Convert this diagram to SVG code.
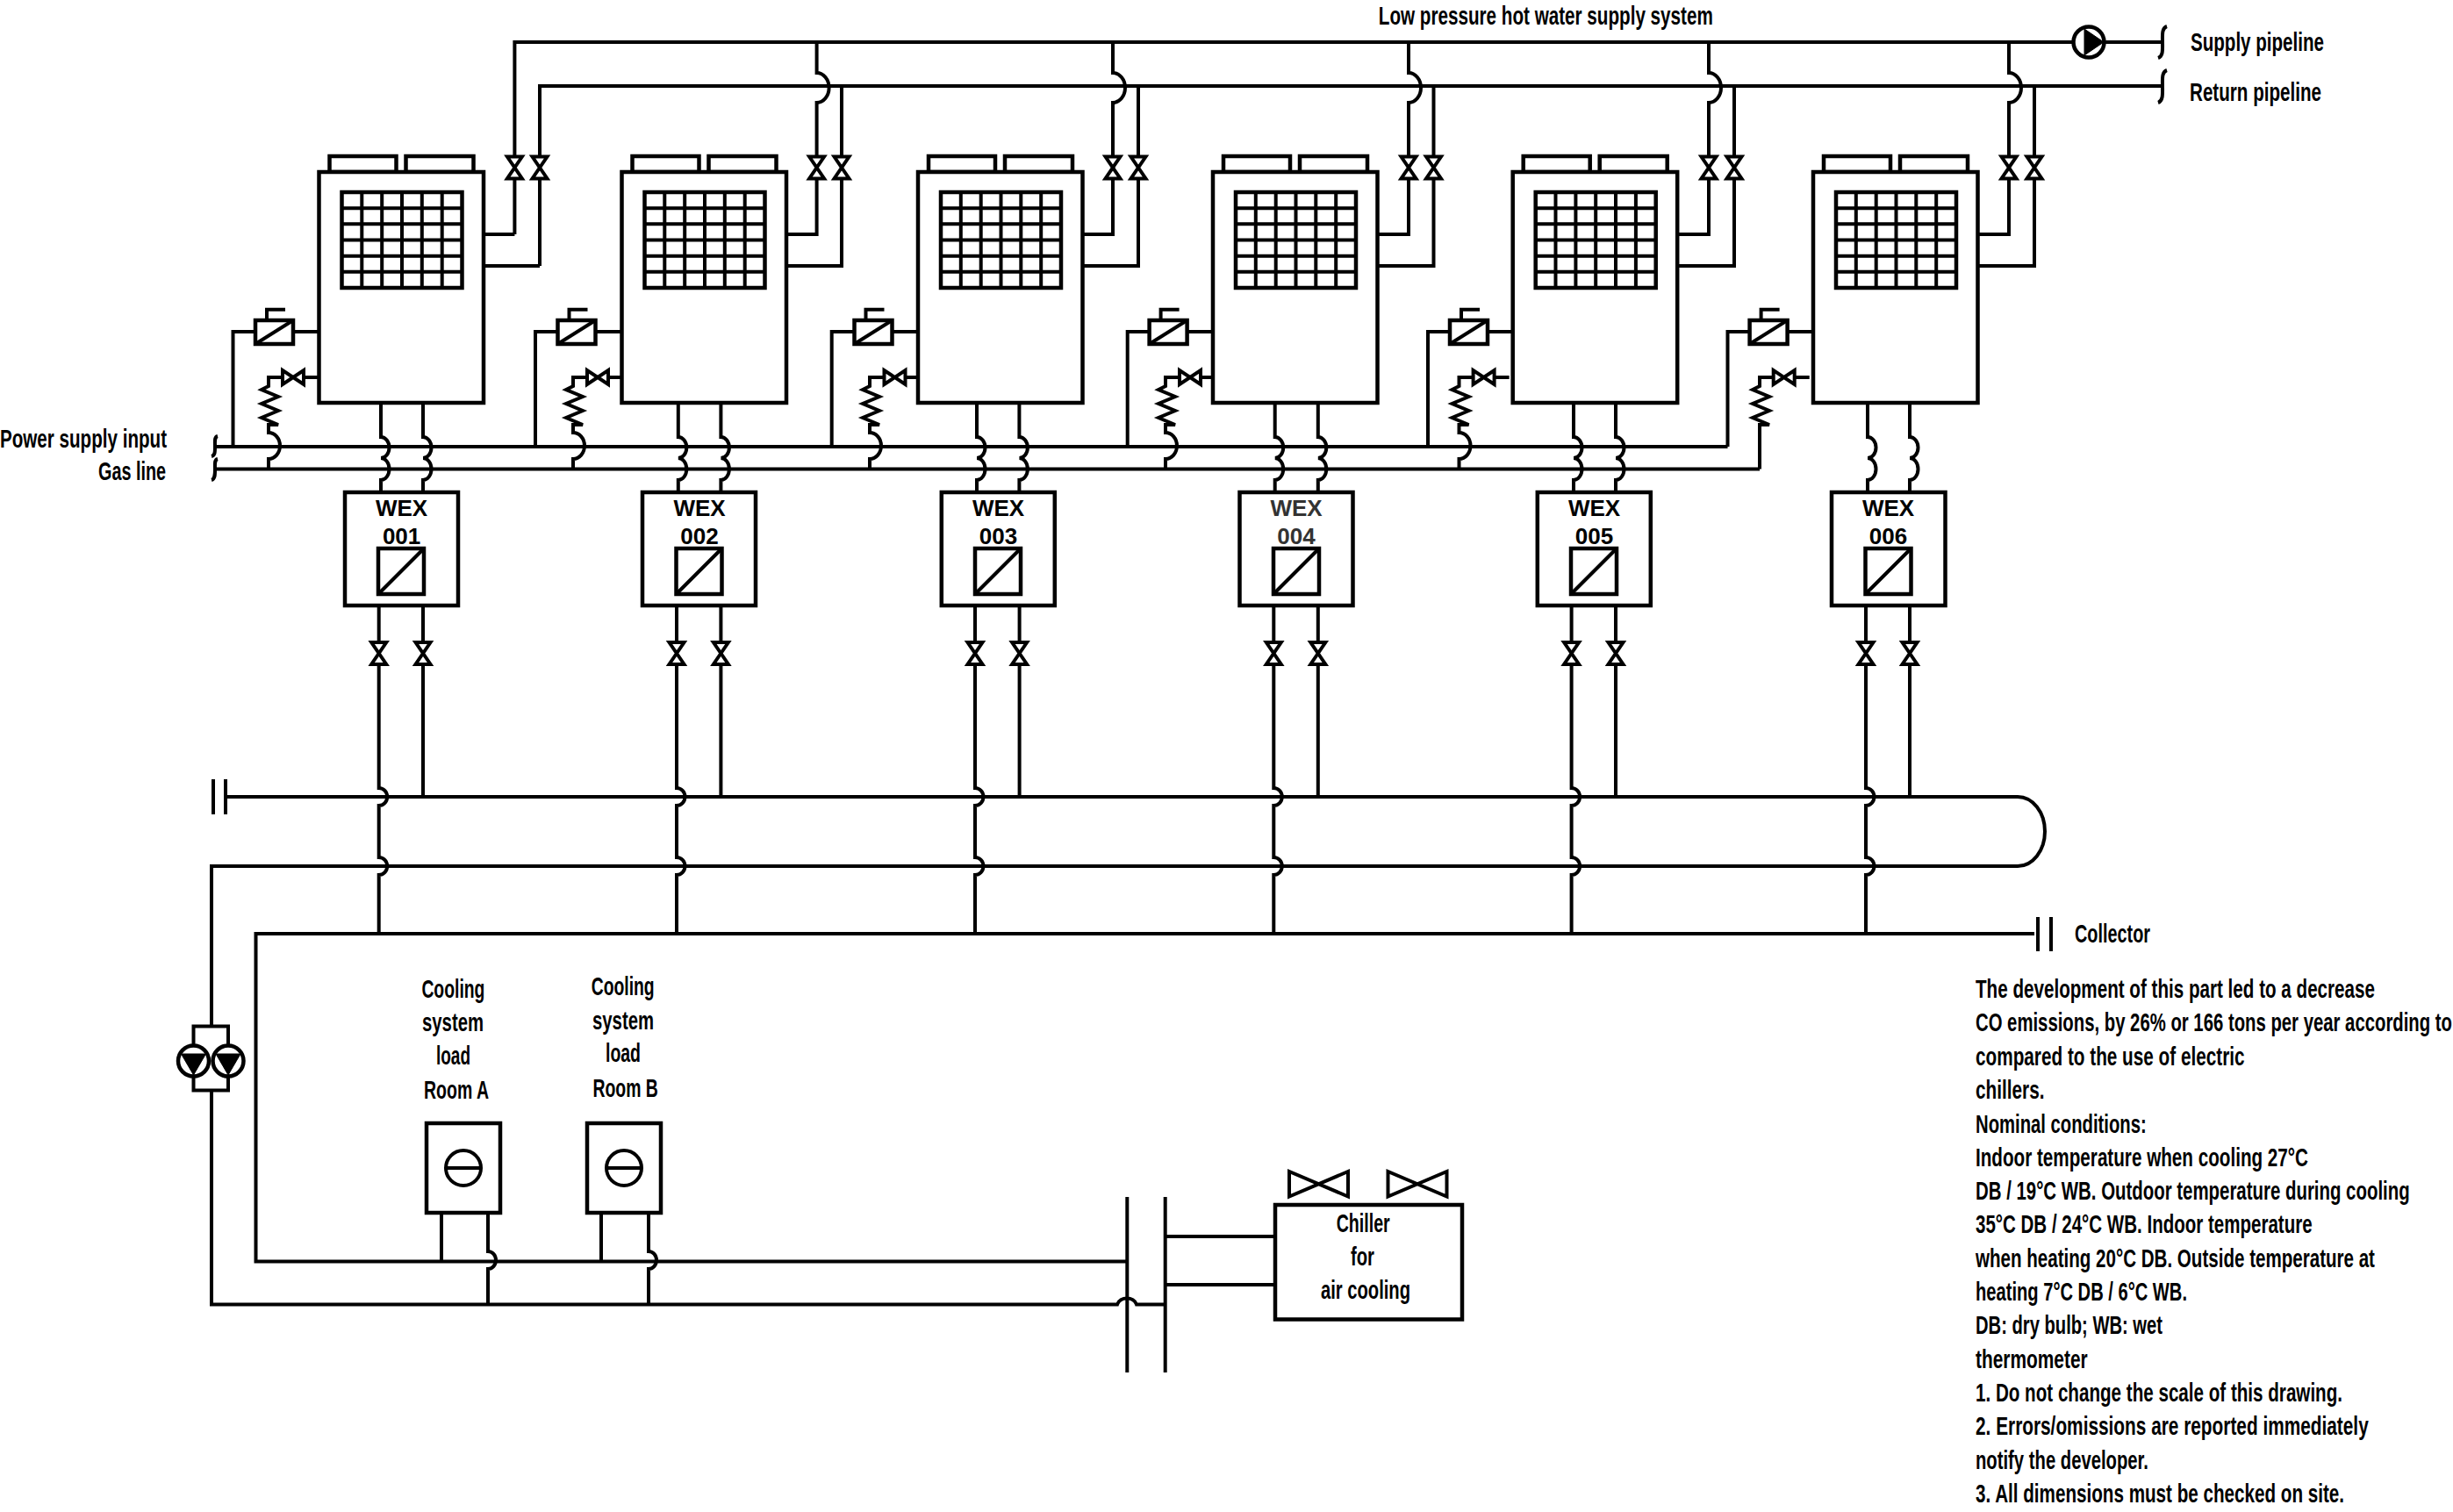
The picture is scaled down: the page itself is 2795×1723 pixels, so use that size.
<svg xmlns="http://www.w3.org/2000/svg" xmlns:xlink="http://www.w3.org/1999/xlink" width="2795" height="1723" viewBox="0 0 2795 1723">
<style>
.l{fill:none;stroke:#000;stroke-width:4;stroke-linejoin:miter}
.b{fill:#fff;stroke:#000;stroke-width:4.5}
.v{fill:#fff;stroke:#000;stroke-width:4;stroke-linejoin:miter}
.k{fill:#000;stroke:#000;stroke-width:1}
text{font-family:"Liberation Sans",Arial,sans-serif;fill:#000}
.t{font-size:30px;font-weight:700}
.w{font-size:26px;font-weight:700;text-anchor:middle}
</style>
<defs>
<g id="chassis">
<rect class="b" x="12" y="178" width="76" height="18"/>
<rect class="b" x="99" y="178" width="77" height="18"/>
<rect class="b" x="0" y="196" width="187.5" height="263"/>
<rect class="b" x="26" y="219" width="137" height="109"/>
<path class="l" d="M48.8 219V328M71.7 219V328M94.5 219V328M117.3 219V328M140.2 219V328M26 237.2H163M26 255.3H163M26 273.5H163M26 291.7H163M26 309.8H163"/>
</g>
<g id="solenoid">
<path class="l" d="M13 365V352.700H34"/>
<rect class="b" x="0" y="365" width="43" height="27"/>
<path class="l" d="M0 392L43 365"/>
</g>
<path id="vv" class="v" d="M-8.500 -12.500H8.500L-8.500 12.500H8.500Z"/>
<path id="hv" class="v" d="M-12 -8V8L12 -8V8Z"/>
<g id="conv">
<rect class="b" x="0" y="0" width="52" height="52"/>
<path class="l" d="M0 52L52 0"/>
</g>
<g id="fcu">
<rect class="b" x="0" y="0" width="84" height="102"/>
<circle class="l" cx="42" cy="51" r="20"/>
<path class="l" d="M22 51H62"/>
</g>
<g id="pumpd">
<circle class="b" cx="0" cy="0" r="17.500"/>
<path class="k" d="M-14 -8H14L0 16Z"/>
</g>
</defs>

<g id="connectors">
<!-- mains -->
<path class="l" d="M586.400 267V48H2464"/>
<path class="l" d="M615 303V98H2464"/>
<path class="l" d="M2469 30C2463 32 2464 40 2464 48C2464 56 2465 64 2459 66"/>
<path class="l" d="M2469 80C2463 82 2464 90 2464 98C2464 106 2465 115 2459 117"/>
<path class="l" d="M245 509H1968.500"/>
<path class="l" d="M245 534.600H2005"/>
<path class="l" d="M248 497C244 498 245 503 245 509C245 515 245 519 241 520"/>
<path class="l" d="M248 523C244 524 245 529 245 535C245 541 245 546 241 547"/>
<!-- unit 1 right side -->
<path class="l" d="M551 267H586.400M551 303H615"/>
<!-- unit riser pipes -->
<path class="l" d="M930.600 48V83A14 17 0 0 1 930.600 117V267H896M959 98V303H896"/>
<path class="l" d="M1268 48V83A14 17 0 0 1 1268 117V267H1233.500M1297 98V303H1233.500"/>
<path class="l" d="M1605 48V83A14 17 0 0 1 1605 117V267H1569.500M1633.500 98V303H1569.500"/>
<path class="l" d="M1947 48V83A14 17 0 0 1 1947 117V267H1911.200M1976 98V303H1911.200"/>
<path class="l" d="M2289 48V83A14 17 0 0 1 2289 117V267H2253.500M2318 98V303H2253.500"/>
<!-- power wires -->
<path class="l" d="M265.500 509V378H291M334 378H363.500"/>
<path class="l" d="M610 509V378H635.500M678.500 378H708.500"/>
<path class="l" d="M947.700 509V378H973.500M1016.500 378H1046"/>
<path class="l" d="M1284.700 509V378H1309.600M1352.600 378H1382"/>
<path class="l" d="M1627 509V378H1652M1695 378H1723.700"/>
<path class="l" d="M1968.500 509V378H1993.600M2036.600 378H2066"/>
<!-- gas stems -->
<path class="l" d="M363.500 430H306V440l-8 4l19 8l-19 8l19 8l-19 8l19 8H306V493A13 15 0 0 1 306 523V534.600"/>
<path class="l" d="M709 430H653V440l-8 4l19 8l-19 8l19 8l-19 8l19 8H653V493A13 15 0 0 1 653 523V534.600"/>
<path class="l" d="M1047 430H991V440l-8 4l19 8l-19 8l19 8l-19 8l19 8H991V493A13 15 0 0 1 991 523V534.600"/>
<path class="l" d="M1384 430H1328V440l-8 4l19 8l-19 8l19 8l-19 8l19 8H1328V493A13 15 0 0 1 1328 523V534.600"/>
<path class="l" d="M1719.600 430H1662.500V440l-8 4l19 8l-19 8l19 8l-19 8l19 8H1662.500V493A13 15 0 0 1 1662.500 523V534.600"/>
<path class="l" d="M2061.700 430H2005V440l-8 4l19 8l-19 8l19 8l-19 8l19 8H2005V534.600"/>
<!-- unit to WEX -->
<path class="l" d="M434 459V498A9.500 12 0 0 1 434 522A9.500 12.500 0 0 1 434 547V561M482 459V498A9.500 12 0 0 1 482 522A9.500 12.500 0 0 1 482 547V561"/>
<path class="l" d="M772.800 459V498A9.500 12 0 0 1 772.800 522A9.500 12.500 0 0 1 772.800 547V561M821.400 459V498A9.500 12 0 0 1 821.400 522A9.500 12.500 0 0 1 821.400 547V561"/>
<path class="l" d="M1113 459V498A9.500 12 0 0 1 1113 522A9.500 12.500 0 0 1 1113 547V561M1161.400 459V498A9.500 12 0 0 1 1161.400 522A9.500 12.500 0 0 1 1161.400 547V561"/>
<path class="l" d="M1452.700 459V498A9.500 12 0 0 1 1452.700 522A9.500 12.500 0 0 1 1452.700 547V561M1501.800 459V498A9.500 12 0 0 1 1501.800 522A9.500 12.500 0 0 1 1501.800 547V561"/>
<path class="l" d="M1793 459V498A9.500 12 0 0 1 1793 522A9.500 12.500 0 0 1 1793 547V561M1841 459V498A9.500 12 0 0 1 1841 522A9.500 12.500 0 0 1 1841 547V561"/>
<path class="l" d="M2128 459V498A9.500 12 0 0 1 2128 522A9.500 12.500 0 0 1 2128 547V561M2176 459V498A9.500 12 0 0 1 2176 522A9.500 12.500 0 0 1 2176 547V561"/>
<!-- header loop -->
<path class="l" d="M258 908H2299A31 39.500 0 0 1 2299 987H241V1169.500M241 1242.500V1486.500H1273C1276 1477 1292 1477 1295 1486.500H1327.700"/>
<path class="l" d="M2318 1064H291.500V1437.500H1284.300"/>
<path class="l" d="M243 888V928M257 888V928"/>
<path class="l" d="M2322 1045V1084M2337 1045V1084"/>
<path class="l" d="M1284.300 1364V1564M1327.700 1364V1564"/>
<path class="l" d="M1327.700 1409H1453M1327.700 1464H1453"/>
<!-- WEX to header -->
<path class="l" d="M431.700 690V898A9.500 10 0 0 1 431.700 918V977A9.500 10 0 0 1 431.700 997V1064M482 690V908"/>
<path class="l" d="M771 690V898A9.500 10 0 0 1 771 918V977A9.500 10 0 0 1 771 997V1064M821.400 690V908"/>
<path class="l" d="M1111 690V898A9.500 10 0 0 1 1111 918V977A9.500 10 0 0 1 1111 997V1064M1161.600 690V908"/>
<path class="l" d="M1451.300 690V898A9.500 10 0 0 1 1451.300 918V977A9.500 10 0 0 1 1451.300 997V1064M1501.800 690V908"/>
<path class="l" d="M1790.600 690V898A9.500 10 0 0 1 1790.600 918V977A9.500 10 0 0 1 1790.600 997V1064M1841 690V908"/>
<path class="l" d="M2126 690V898A9.500 10 0 0 1 2126 918V977A9.500 10 0 0 1 2126 997V1064M2176 690V908"/>
<!-- rooms -->
<path class="l" d="M503 1382V1437.500M556 1382V1426A9 10 0 0 1 556 1446V1486.500"/>
<path class="l" d="M685 1382V1437.500M739 1382V1426A9 10 0 0 1 739 1446V1486.500"/>
<!-- pump bypass -->
<rect class="l" x="220.500" y="1169.500" width="39.500" height="73"/>
</g>

<g id="unit-1">
<use href="#chassis" xlink:href="#chassis" x="363.500"/>
<use href="#solenoid" xlink:href="#solenoid" x="291"/>
<use href="#hv" xlink:href="#hv" x="334" y="430"/>
<use href="#vv" xlink:href="#vv" x="586.400" y="191"/>
<use href="#vv" xlink:href="#vv" x="615" y="191"/>
</g>
<g id="unit-2">
<use href="#chassis" xlink:href="#chassis" x="708.500"/>
<use href="#solenoid" xlink:href="#solenoid" x="635.500"/>
<use href="#hv" xlink:href="#hv" x="681" y="430"/>
<use href="#vv" xlink:href="#vv" x="930.600" y="191"/>
<use href="#vv" xlink:href="#vv" x="959" y="191"/>
</g>
<g id="unit-3">
<use href="#chassis" xlink:href="#chassis" x="1046"/>
<use href="#solenoid" xlink:href="#solenoid" x="973.500"/>
<use href="#hv" xlink:href="#hv" x="1019.500" y="430"/>
<use href="#vv" xlink:href="#vv" x="1268" y="191"/>
<use href="#vv" xlink:href="#vv" x="1297" y="191"/>
</g>
<g id="unit-4">
<use href="#chassis" xlink:href="#chassis" x="1382"/>
<use href="#solenoid" xlink:href="#solenoid" x="1309.600"/>
<use href="#hv" xlink:href="#hv" x="1356" y="430"/>
<use href="#vv" xlink:href="#vv" x="1605" y="191"/>
<use href="#vv" xlink:href="#vv" x="1633.500" y="191"/>
</g>
<g id="unit-5">
<use href="#chassis" xlink:href="#chassis" x="1723.700"/>
<use href="#solenoid" xlink:href="#solenoid" x="1652"/>
<use href="#hv" xlink:href="#hv" x="1690.600" y="430"/>
<use href="#vv" xlink:href="#vv" x="1947" y="191"/>
<use href="#vv" xlink:href="#vv" x="1976" y="191"/>
</g>
<g id="unit-6">
<use href="#chassis" xlink:href="#chassis" x="2066"/>
<use href="#solenoid" xlink:href="#solenoid" x="1993.600"/>
<use href="#hv" xlink:href="#hv" x="2032.700" y="430"/>
<use href="#vv" xlink:href="#vv" x="2289" y="191"/>
<use href="#vv" xlink:href="#vv" x="2318" y="191"/>
</g>

<g id="wex-001">
<rect class="b" x="393" y="561" width="129" height="129"/>
<text class="w" x="457.600" y="587.500">WEX</text><text class="w" x="457.600" y="619.500">001</text>
<use href="#conv" xlink:href="#conv" x="431" y="625"/>
<use href="#vv" xlink:href="#vv" x="431.700" y="744.500"/><use href="#vv" xlink:href="#vv" x="482" y="744.500"/>
</g>
<g id="wex-002">
<rect class="b" x="732" y="561" width="129" height="129"/>
<text class="w" x="797" y="587.500">WEX</text><text class="w" x="797" y="619.500">002</text>
<use href="#conv" xlink:href="#conv" x="770.500" y="625"/>
<use href="#vv" xlink:href="#vv" x="771" y="744.500"/><use href="#vv" xlink:href="#vv" x="821.400" y="744.500"/>
</g>
<g id="wex-003">
<rect class="b" x="1072.800" y="561" width="129" height="129"/>
<text class="w" x="1137.500" y="587.500">WEX</text><text class="w" x="1137.500" y="619.500">003</text>
<use href="#conv" xlink:href="#conv" x="1111" y="625"/>
<use href="#vv" xlink:href="#vv" x="1111" y="744.500"/><use href="#vv" xlink:href="#vv" x="1161.600" y="744.500"/>
</g>
<g id="wex-004">
<rect class="b" x="1412.500" y="561" width="129" height="129"/>
<text class="w" x="1477" y="587.500" style="fill:#333">WEX</text><text class="w" x="1477" y="619.500" style="fill:#333">004</text>
<use href="#conv" xlink:href="#conv" x="1451" y="625"/>
<use href="#vv" xlink:href="#vv" x="1451.300" y="744.500"/><use href="#vv" xlink:href="#vv" x="1501.800" y="744.500"/>
</g>
<g id="wex-005">
<rect class="b" x="1751.800" y="561" width="129" height="129"/>
<text class="w" x="1816.500" y="587.500">WEX</text><text class="w" x="1816.500" y="619.500">005</text>
<use href="#conv" xlink:href="#conv" x="1790" y="625"/>
<use href="#vv" xlink:href="#vv" x="1790.600" y="744.500"/><use href="#vv" xlink:href="#vv" x="1841" y="744.500"/>
</g>
<g id="wex-006">
<rect class="b" x="2087" y="561" width="129.500" height="129"/>
<text class="w" x="2151.500" y="587.500">WEX</text><text class="w" x="2151.500" y="619.500">006</text>
<use href="#conv" xlink:href="#conv" x="2125.500" y="625"/>
<use href="#vv" xlink:href="#vv" x="2126" y="744.500"/><use href="#vv" xlink:href="#vv" x="2176" y="744.500"/>
</g>

<g id="supply-pump">
<circle class="b" cx="2380" cy="48" r="17.500"/>
<path class="k" d="M2375 33V63L2397 48Z"/>
</g>
<g id="twin-pump">
<use href="#pumpd" xlink:href="#pumpd" x="220.500" y="1209"/>
<use href="#pumpd" xlink:href="#pumpd" x="260" y="1209"/>
</g>

<g id="room-a">
<use href="#fcu" xlink:href="#fcu" x="486" y="1280"/>
<text class="t" x="480.400" y="1137" textLength="72" lengthAdjust="spacingAndGlyphs">Cooling</text>
<text class="t" x="481" y="1175" textLength="70" lengthAdjust="spacingAndGlyphs">system</text>
<text class="t" x="497" y="1213" textLength="39" lengthAdjust="spacingAndGlyphs">load</text>
<text class="t" x="483" y="1252" textLength="74" lengthAdjust="spacingAndGlyphs">Room A</text>
</g>
<g id="room-b">
<use href="#fcu" xlink:href="#fcu" x="669" y="1280"/>
<text class="t" x="673.700" y="1134" textLength="72" lengthAdjust="spacingAndGlyphs">Cooling</text>
<text class="t" x="675" y="1172.500" textLength="70" lengthAdjust="spacingAndGlyphs">system</text>
<text class="t" x="690" y="1210" textLength="40" lengthAdjust="spacingAndGlyphs">load</text>
<text class="t" x="675.400" y="1249.500" textLength="74.500" lengthAdjust="spacingAndGlyphs">Room B</text>
</g>
<g id="chiller">
<rect class="b" x="1453" y="1373" width="213" height="130.500"/>
<path class="v" d="M1469 1335V1363.500L1536 1335V1363.500Z"/>
<path class="v" d="M1581.500 1335V1363.500L1648.500 1335V1363.500Z"/>
<text class="t" x="1522.700" y="1403.500" textLength="61" lengthAdjust="spacingAndGlyphs">Chiller</text>
<text class="t" x="1539" y="1441.500" textLength="27" lengthAdjust="spacingAndGlyphs">for</text>
<text class="t" x="1505" y="1479.500" textLength="102" lengthAdjust="spacingAndGlyphs">air cooling</text>
</g>

<g id="labels">
<text class="t" x="1570.800" y="28" textLength="381" lengthAdjust="spacingAndGlyphs">Low pressure hot water supply system</text>
<text class="t" x="2496" y="58" textLength="152" lengthAdjust="spacingAndGlyphs">Supply pipeline</text>
<text class="t" x="2495" y="115" textLength="150" lengthAdjust="spacingAndGlyphs">Return pipeline</text>
<text class="t" x="0" y="509.500" textLength="190" lengthAdjust="spacingAndGlyphs">Power supply input</text>
<text class="t" x="112" y="546.500" textLength="77" lengthAdjust="spacingAndGlyphs">Gas line</text>
<text class="t" x="2364" y="1073.500" textLength="86" lengthAdjust="spacingAndGlyphs">Collector</text>
</g>
<g id="notes" transform="translate(2251 0) scale(.6 1)">
<text class="t" x="0" y="1137" textLength="758.300" lengthAdjust="spacingAndGlyphs">The development of this part led to a decrease</text>
<text class="t" x="0" y="1175.500" textLength="905" lengthAdjust="spacingAndGlyphs">CO emissions, by 26% or 166 tons per year according to</text>
<text class="t" x="0" y="1214" textLength="511" lengthAdjust="spacingAndGlyphs">compared to the use of electric</text>
<text class="t" x="0" y="1252.300" textLength="130.800" lengthAdjust="spacingAndGlyphs">chillers.</text>
<text class="t" x="0" y="1290.600" textLength="324.500" lengthAdjust="spacingAndGlyphs">Nominal conditions:</text>
<text class="t" x="0" y="1329" textLength="631.700" lengthAdjust="spacingAndGlyphs">Indoor temperature when cooling 27°C</text>
<text class="t" x="0" y="1367.300" textLength="824.500" lengthAdjust="spacingAndGlyphs">DB / 19°C WB. Outdoor temperature during cooling</text>
<text class="t" x="0" y="1405.500" textLength="639.300" lengthAdjust="spacingAndGlyphs">35°C DB / 24°C WB. Indoor temperature</text>
<text class="t" x="0" y="1443.800" textLength="758.300" lengthAdjust="spacingAndGlyphs">when heating 20°C DB. Outside temperature at</text>
<text class="t" x="0" y="1482.100" textLength="401.700" lengthAdjust="spacingAndGlyphs">heating 7°C DB / 6°C WB.</text>
<text class="t" x="0" y="1520.400" textLength="355" lengthAdjust="spacingAndGlyphs">DB: dry bulb; WB: wet</text>
<text class="t" x="0" y="1558.700" textLength="212.700" lengthAdjust="spacingAndGlyphs">thermometer</text>
<text class="t" x="0" y="1597" textLength="696.700" lengthAdjust="spacingAndGlyphs">1. Do not change the scale of this drawing.</text>
<text class="t" x="0" y="1635.300" textLength="746.200" lengthAdjust="spacingAndGlyphs">2. Errors/omissions are reported immediately</text>
<text class="t" x="0" y="1673.600" textLength="328.300" lengthAdjust="spacingAndGlyphs">notify the developer.</text>
<text class="t" x="0" y="1712" textLength="700" lengthAdjust="spacingAndGlyphs">3. All dimensions must be checked on site.</text>
</g>
</svg>
